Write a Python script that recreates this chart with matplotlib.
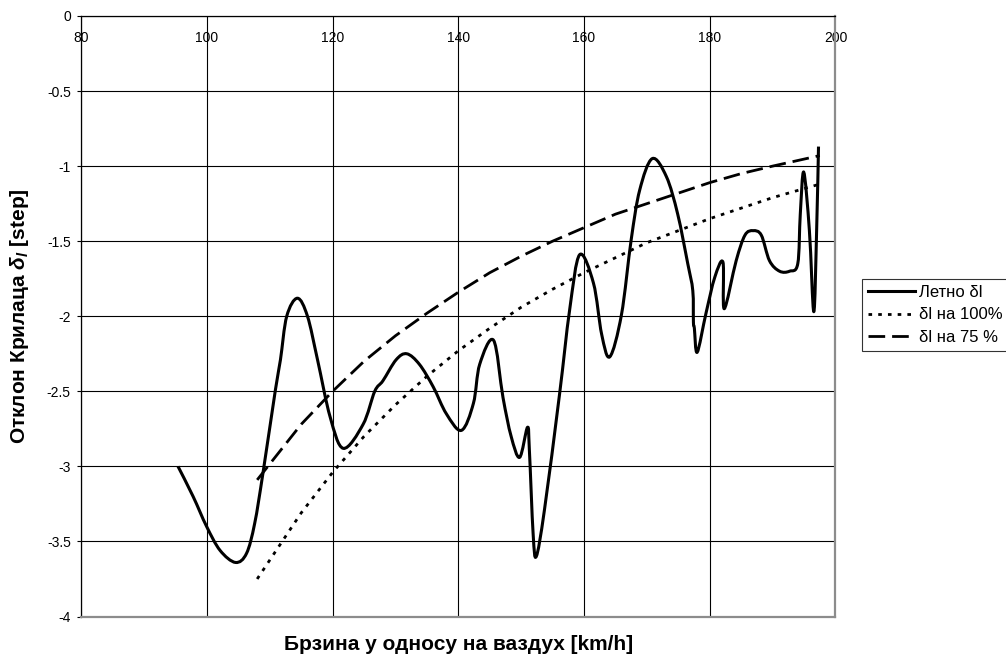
import matplotlib.pyplot as plt
from matplotlib.path import Path
from matplotlib.patches import PathPatch
from matplotlib.lines import Line2D

plt.rcParams["font.family"] = ["Liberation Sans", "DejaVu Sans"]
plt.rcParams["mathtext.fontset"] = "custom"
plt.rcParams["mathtext.rm"] = "Liberation Sans:bold"
plt.rcParams["mathtext.it"] = "Liberation Sans:bold:italic"
plt.rcParams["mathtext.bf"] = "Liberation Sans:bold"

# measured flight deflection (Летно δl)
speed_flight = [95.4, 97.8, 99.95, 102.1, 104.55, 106.3, 107.6, 108.9, 110.9, 111.7,
                112.7, 114.4, 116.0, 117.6, 119.6, 121.7, 124.85, 126.7, 128.0, 130.1,
                131.8, 133.8, 136.0, 138.1, 140.5, 142.4, 143.4, 145.6, 147.1, 148.4,
                149.75, 151.0, 151.3, 151.9, 152.4, 153.7, 156.1, 157.7, 159.3, 161.5,
                162.8, 164.1, 165.95, 167.5, 168.85, 170.85, 173.1, 174.9, 176.5, 177.3,
                177.4, 177.55, 178.0, 179.4, 180.8, 182.1, 182.3, 184.2, 185.6, 186.9,
                188.2, 189.5, 191.1, 192.7, 194.0, 194.4, 194.95, 195.85, 196.55, 197.0,
                197.3]
delta_flight = [-3.00, -3.20, -3.40, -3.56, -3.64, -3.58, -3.38, -3.05, -2.49, -2.29,
                -2.00, -1.88, -2.00, -2.29, -2.67, -2.88, -2.72, -2.50, -2.43, -2.29,
                -2.25, -2.32, -2.47, -2.65, -2.76, -2.58, -2.32, -2.16, -2.54, -2.80,
                -2.94, -2.74, -2.89, -3.45, -3.60, -3.29, -2.52, -1.96, -1.59, -1.78,
                -2.12, -2.27, -1.99, -1.49, -1.16, -0.95, -1.07, -1.32, -1.65, -1.83,
                -2.04, -2.08, -2.24, -1.98, -1.74, -1.64, -1.95, -1.63, -1.46, -1.43,
                -1.46, -1.63, -1.70, -1.70, -1.65, -1.32, -1.04, -1.43, -1.97, -1.43,
                -0.87]

# reference curves
speed_ref = [108, 115, 120, 125, 130, 135, 140, 145, 150, 155, 160, 165, 170, 175,
             180, 185, 190, 197.5]
delta_100 = [-3.75, -3.31, -3.04, -2.80, -2.59, -2.40, -2.23, -2.08, -1.94, -1.82,
             -1.71, -1.61, -1.51, -1.43, -1.35, -1.28, -1.21, -1.12]
delta_75 = [-3.09, -2.72, -2.50, -2.30, -2.13, -1.98, -1.84, -1.71, -1.60, -1.50,
            -1.41, -1.32, -1.25, -1.18, -1.11, -1.05, -1.00, -0.93]

x_ticks = [80, 100, 120, 140, 160, 180, 200]
y_ticks = [0, -0.5, -1, -1.5, -2, -2.5, -3, -3.5, -4]
y_tick_labels = ["0", "-0.5", "-1", "-1.5", "-2", "-2.5", "-3", "-3.5", "-4"]


def smooth_path(xs, ys):
    """Excel-style smoothed line: cubic Bezier through every point."""
    pts = list(zip(xs, ys))
    n = len(pts)
    verts = [pts[0]]
    codes = [Path.MOVETO]
    for i in range(n - 1):
        p0 = pts[i - 1] if i > 0 else pts[i]
        p1 = pts[i]
        p2 = pts[i + 1]
        p3 = pts[i + 2] if i + 2 < n else pts[i + 1]
        c1 = (p1[0] + (p2[0] - p0[0]) / 6, p1[1] + (p2[1] - p0[1]) / 6)
        c2 = (p2[0] - (p3[0] - p1[0]) / 6, p2[1] - (p3[1] - p1[1]) / 6)
        verts += [c1, c2, p2]
        codes += [Path.CURVE4] * 3
    return Path(verts, codes)


fig = plt.figure(figsize=(10.06, 6.6), dpi=100)
ax = fig.add_axes([0.0807, 0.0659, 0.7498, 0.9099])

ax.add_patch(PathPatch(smooth_path(speed_flight, delta_flight), fill=False,
                       edgecolor="black", lw=2.2, joinstyle="round", zorder=3))
ax.plot(speed_ref, delta_100, color="black", lw=2.0, dashes=(1.3, 2.2), zorder=3)
ax.plot(speed_ref, delta_75, color="black", lw=2.0, dashes=(6, 2.5), zorder=3)

ax.set_xlim(80, 200)
ax.set_ylim(-4, 0)
ax.set_xticks(x_ticks)
ax.set_yticks(y_ticks)
ax.set_yticklabels(y_tick_labels)
ax.xaxis.tick_top()
ax.tick_params(axis="x", length=0, pad=-21, labelsize=10)
ax.tick_params(axis="y", length=3, width=0.8, pad=4.5, labelsize=10)
ax.grid(True, color="black", lw=0.8)

for side in ["top", "left"]:
    ax.spines[side].set_color("black")
    ax.spines[side].set_linewidth(0.9)
for side in ["bottom", "right"]:
    ax.spines[side].set_color("#8c8c8c")
    ax.spines[side].set_linewidth(1.6)

ax.set_xlabel("Брзина у односу на ваздух [km/h]", fontsize=15, fontweight="bold")
ax.xaxis.set_label_coords(0.5, -0.031)
ax.set_ylabel("Отклон Крилаца $\\delta_{l}$ [step]", fontsize=15, fontweight="bold")
ax.yaxis.set_label_coords(-0.066, 0.5)

handles = [
    Line2D([], [], color="black", lw=2.2),
    Line2D([], [], color="black", lw=2.0, dashes=(1.3, 2.2)),
    Line2D([], [], color="black", lw=2.0, dashes=(6, 2.5)),
]
labels = ["Летно δl", "δl на 100%", "δl на 75 %"]
leg = fig.legend(handles, labels, loc="upper left",
                 bbox_to_anchor=(862 / 1006, 1 - 279 / 660),
                 fontsize=12, frameon=True, fancybox=False, handlelength=2.8,
                 handletextpad=0.25, labelspacing=0.45, borderpad=0.35,
                 borderaxespad=0)
leg.get_frame().set_edgecolor("black")
leg.get_frame().set_linewidth(0.8)

fig.savefig("out.png", dpi=100)
